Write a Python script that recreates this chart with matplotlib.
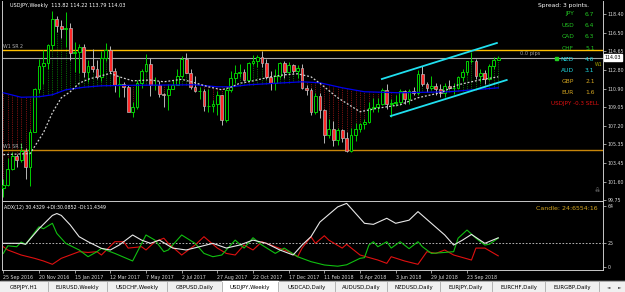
import numpy as np
import matplotlib
matplotlib.use("Agg")
import matplotlib.pyplot as plt
from matplotlib.patches import Rectangle
import matplotlib.transforms as mtrans

W, H = 625, 292

# ---------------- data ----------------
# weekly USDJPY candles, first bar = week of 25 Sep 2016
opens = [101.0, 101.3, 102.9, 104.2, 103.8, 104.7, 103.1, 106.6, 110.9, 113.2, 113.5, 115.3, 117.9, 117.2,
         116.9, 117.0, 114.5, 114.6, 115.1, 112.6, 113.2, 112.9, 112.1, 114.0, 114.8, 112.7, 111.3, 111.4,
         111.1, 108.6, 109.1, 111.5, 112.7, 113.4, 111.3, 111.3, 110.4, 110.3, 110.9, 111.3, 112.2, 113.9,
         112.5, 111.1, 110.7, 110.7, 109.2, 109.2, 109.4, 110.3, 107.8, 110.8, 112.0, 112.5, 112.6, 111.8,
         113.5, 113.7, 114.1, 113.5, 112.1, 111.5, 112.2, 113.5, 112.6, 113.3, 112.7, 113.0, 111.0, 110.8,
         108.6, 110.2, 108.8, 106.3, 106.9, 105.8, 106.8, 106.0, 104.7, 106.3, 106.9, 107.4, 107.6, 109.0,
         109.1, 109.4, 110.8, 109.4, 109.5, 109.6, 110.7, 109.9, 110.7, 110.5, 112.4, 111.4, 111.0, 111.2,
         110.9, 110.5, 111.2, 111.0, 111.0, 112.1, 112.6, 113.7, 113.7, 112.2, 112.5, 111.9, 113.2, 113.82]
highs = [101.9, 104.0, 104.6, 104.4, 105.5, 105.0, 106.9, 111.0, 113.9, 114.8, 115.4, 118.7, 118.2, 117.8,
         118.6, 117.5, 115.6, 115.4, 115.4, 113.8, 114.9, 113.8, 114.7, 115.5, 115.2, 113.0, 112.2, 111.6,
         111.3, 109.6, 111.8, 112.9, 114.4, 114.0, 112.1, 111.7, 110.5, 111.4, 111.8, 112.9, 114.2, 114.5,
         112.9, 112.2, 111.1, 110.9, 110.9, 109.8, 110.7, 110.3, 111.0, 112.7, 113.3, 113.4, 112.9, 113.6,
         114.3, 114.3, 114.7, 113.9, 112.7, 112.9, 113.6, 113.7, 113.6, 113.4, 113.3, 113.4, 111.3, 111.0,
         110.5, 110.5, 108.9, 107.9, 107.7, 107.0, 106.9, 106.6, 107.0, 107.5, 107.5, 107.9, 109.6, 110.0,
         110.0, 111.0, 111.4, 109.9, 110.3, 110.9, 110.8, 110.9, 111.1, 112.8, 113.2, 111.6, 112.2, 111.5,
         111.4, 111.5, 111.8, 111.5, 112.2, 112.9, 113.7, 114.6, 113.9, 112.9, 112.8, 113.4, 114.1, 114.22]
lows = [100.1, 101.2, 102.8, 103.1, 103.6, 101.9, 101.2, 106.6, 110.5, 111.4, 112.9, 114.8, 116.6, 116.0,
        115.1, 113.8, 112.6, 112.5, 112.1, 111.6, 112.6, 111.9, 111.7, 113.7, 112.5, 110.6, 110.1, 110.1,
        108.7, 108.1, 108.9, 111.0, 112.6, 110.2, 110.8, 110.1, 109.1, 108.8, 110.9, 111.3, 112.0, 112.5,
        110.9, 110.6, 109.9, 108.7, 108.6, 108.6, 108.3, 107.3, 107.6, 110.6, 111.5, 112.1, 111.7, 111.7,
        113.3, 113.1, 113.1, 111.9, 110.8, 110.8, 112.0, 112.0, 112.5, 112.5, 112.0, 110.9, 110.3, 108.3,
        108.4, 108.0, 105.5, 106.0, 105.2, 105.3, 105.6, 104.6, 104.6, 105.7, 106.6, 106.9, 107.5, 108.6,
        108.6, 109.3, 108.9, 108.1, 109.2, 109.3, 109.4, 109.4, 110.3, 110.3, 111.2, 110.6, 110.8, 110.3,
        110.1, 110.1, 110.9, 110.4, 111.0, 111.7, 112.3, 113.5, 111.9, 111.6, 111.4, 111.8, 112.9, 113.79]
closes = [101.3, 102.9, 104.2, 103.8, 104.7, 103.1, 106.6, 110.9, 113.2, 113.5, 115.3, 117.9, 117.2, 116.9,
          117.0, 114.5, 114.6, 115.1, 112.6, 113.2, 112.9, 112.1, 114.0, 114.8, 112.7, 111.3, 111.4, 111.1,
          108.6, 109.1, 111.5, 112.7, 113.4, 111.3, 111.3, 110.4, 110.3, 110.9, 111.3, 112.2, 113.9, 112.5,
          111.1, 110.7, 110.7, 109.2, 109.2, 109.4, 110.3, 107.8, 110.8, 112.0, 112.5, 112.6, 111.8, 113.5,
          113.7, 114.1, 113.5, 112.1, 111.5, 112.2, 113.5, 112.6, 113.3, 112.7, 113.0, 111.0, 110.8, 108.6,
          110.2, 108.8, 106.3, 106.9, 105.8, 106.8, 106.0, 104.7, 106.3, 106.9, 107.4, 107.6, 109.0, 109.1,
          109.4, 110.8, 109.4, 109.5, 109.6, 110.7, 109.9, 110.7, 110.5, 112.4, 111.4, 111.0, 111.2, 110.9,
          110.5, 111.2, 111.0, 111.0, 112.1, 112.6, 113.7, 113.7, 112.2, 112.5, 111.9, 113.2, 113.8, 114.03]

# slow moving average (blue), read at bars
ma_slow_bars = [0, 4, 8, 11, 14, 18, 22, 29, 43, 48, 51, 55, 63, 67, 71, 76, 81, 89, 100, 111]
ma_slow_vals = [110.5, 110.05, 110.1, 110.3, 110.8, 111.05, 111.2, 111.25, 111.3, 111.1, 111.1, 111.3,
                111.5, 111.6, 111.5, 111.0, 110.6, 110.5, 110.6, 111.0]
# faster average (white dotted), read at bars
ma_fast_bars = [0, 6, 9, 11, 13, 15, 17, 19, 24, 26, 29, 33, 36, 40, 43, 46, 49, 51, 53, 55, 60, 63, 66,
                69, 71, 75, 80, 84, 89, 93, 98, 102, 107, 111]
ma_fast_vals = [104.3, 104.4, 106.5, 108.5, 110.0, 110.6, 111.45, 111.85, 112.45, 112.1, 111.7, 111.78,
                111.6, 111.85, 111.5, 111.1, 110.8, 111.05, 111.45, 111.6, 112.1, 112.3, 112.4, 112.1,
                111.45, 110.0, 108.6, 108.95, 109.3, 110.0, 110.5, 111.3, 111.8, 112.1]

# levels
sr2_level = 114.79
sr1_level = 104.80
last_price = 114.03
channel_upper = ([84.9, 110.7], [111.88, 115.49])
channel_lower = ([86.9, 112.9], [108.17, 111.78])

price_ticks = [118.40, 116.50, 114.65, 112.80, 110.90, 109.05, 107.20, 105.35, 103.45, 101.60, 99.75]

date_tick_bars = [0, 8, 16, 24, 32, 40, 48, 56, 64, 72, 80, 88, 96, 104]
date_labels = ["25 Sep 2016", "20 Nov 2016", "15 Jan 2017", "12 Mar 2017", "7 May 2017", "2 Jul 2017",
               "27 Aug 2017", "22 Oct 2017", "17 Dec 2017", "11 Feb 2018", "8 Apr 2018", "3 Jun 2018",
               "29 Jul 2018", "23 Sep 2018"]

# ADX(12) readings
adx_bars = [0, 4, 5, 8, 11, 12, 13, 15, 17, 19, 22, 24, 26, 29, 31, 33, 35, 38, 41, 44, 47, 50, 53, 56,
            59, 62, 65, 67, 69, 71, 75, 77, 78, 81, 83, 86, 88, 91, 93, 96, 99, 101, 103, 105, 108, 111]
adx_vals = [24.6, 24.6, 23.6, 40, 54, 56, 54, 44, 31.6, 26.3, 19.3, 17.6, 22.8, 33.4, 28, 24.6, 28, 19.6,
            17.6, 21, 24.6, 19.6, 22.8, 28, 24.6, 17.6, 12.3, 22.8, 31.6, 47, 63, 66.7, 61.5, 45.7, 44.6,
            51, 45.7, 49, 58, 45.7, 33.4, 22.8, 28, 34, 24.6, 30.4]
pdi_bars = [0, 1, 3, 4, 5, 8, 9, 11, 12, 14, 17, 19, 21, 22, 25, 29, 32, 34, 36, 37, 40, 43, 45, 47, 49,
            52, 54, 56, 58, 61, 63, 66, 69, 72, 75, 77, 80, 81, 82, 83, 84, 86, 87, 89, 91, 93, 94, 96,
            99, 101, 102, 104, 106, 108, 109, 111]
pdi_vals = [14, 22, 21, 26, 23.6, 42, 40, 45.7, 35, 24.6, 17.6, 10.5, 15.8, 19.3, 14, 6, 33.4, 28, 15.8,
            17.6, 33.4, 24.6, 14, 10.5, 12.3, 28, 19.6, 30.5, 22.8, 14, 19.6, 10.5, 5.3, 1.8, 0.5, 2, 8.8,
            9.5, 22.8, 26.3, 21, 26.3, 19.6, 26.3, 19, 26.3, 21, 14, 15, 15.8, 30, 38.6, 30, 22.8, 23.6, 30.1]
mdi_bars = [0, 1, 4, 7, 9, 11, 13, 17, 19, 21, 22, 25, 27, 28, 31, 32, 34, 36, 37, 40, 43, 45, 48, 50, 52,
            54, 56, 58, 61, 64, 66, 67, 69, 70, 72, 73, 76, 77, 80, 84, 86, 87, 90, 93, 95, 97, 99, 101,
            105, 106, 108, 111]
mdi_vals = [21, 17.6, 12.3, 8.8, 6, 2.5, 8.8, 15.8, 15, 15.8, 12.3, 26.3, 26.3, 19.6, 21, 17.6, 26.3, 30,
            24.6, 12.3, 22.8, 31.6, 19.6, 14, 12.3, 22.8, 17.6, 26.3, 21, 15.8, 10.5, 19.6, 31.6, 24.6,
            32.6, 28, 19.6, 23.6, 12.3, 7, 3.5, 10.5, 6, 2.5, 15.8, 14, 17.6, 12.3, 7, 19.6, 19.6, 11.4]

strength_names = ["JPY", "USD", "CAD", "CHF", "NZD", "AUD", "GBP", "EUR"]
strength_vals = ["6.7", "6.4", "6.3", "5.1", "4.6", "3.1", "2.1", "1.6"]
strength_cols = ["#22C422", "#22C422", "#22C422", "#22C422", "#20D8E0", "#20D8E0", "#D4A520", "#D4A520"]

tabs = ["GBPJPY,H1", "EURUSD,Weekly", "USDCHF,Weekly", "GBPUSD,Daily", "USDJPY,Weekly", "USDCAD,Daily",
        "AUDUSD,Daily", "NZDUSD,Daily", "EURJPY,Daily", "EURCHF,Daily", "EURGBP,Daily"]
tab_edges = [0, 48, 107, 167, 222, 278, 335, 387, 440, 492, 545, 599]
active_tab = 4

# ---------------- figure ----------------
plt.rcParams['font.family'] = ['DejaVu Sans']
fig = plt.figure(figsize=(W / 100, H / 100), dpi=100, facecolor='black')


def axrect(x0, y0, x1, y1):
    return [x0 / W, 1 - y1 / H, (x1 - x0) / W, (y1 - y0) / H]


FG = '#D8D8D8'
ax = fig.add_axes(axrect(2, 1, 603, 200))
ax.set_facecolor('black')
XL = (-0.3, 134.5)
ax.set_xlim(*XL)
ax.set_ylim(99.75, 119.70)

bars = np.arange(len(opens))
o = np.array(opens); h = np.array(highs); l = np.array(lows); c = np.array(closes)

# histogram between slow MA and price
ma_at = np.interp(bars, ma_slow_bars, ma_slow_vals)
up = l > ma_at
dn = h < ma_at
ax.vlines(bars[up], ma_at[up], l[up], colors='#0A8A0A', linestyles=(0, (1, 1.2)), lw=0.6, zorder=1)
ax.vlines(bars[dn], h[dn], ma_at[dn], colors='#A01818', linestyles=(0, (1, 1.2)), lw=0.6, zorder=1)

# horizontal levels
ax.axhline(sr2_level, color='#FFC000', lw=1.0, zorder=2)
ax.axhline(sr1_level, color='#C8860A', lw=1.0, zorder=2)
ax.axhline(last_price, color='#A8A8A8', lw=0.8, zorder=2)

# candles
bull = c >= o
bw = 0.62
ax.vlines(bars[bull], l[bull], h[bull], colors='#00D000', lw=0.7, zorder=3)
ax.vlines(bars[~bull], l[~bull], h[~bull], colors='#B8B8B8', lw=0.7, zorder=3)
ax.bar(bars[bull], (c - o)[bull], bottom=o[bull], width=bw, color='black', edgecolor='#00D000',
       linewidth=0.7, zorder=4)
ax.bar(bars[~bull], (c - o)[~bull], bottom=o[~bull], width=bw, color='#FF2A2A', edgecolor='#B8B8B8',
       linewidth=0.5, zorder=4)

# moving averages
ax.plot(ma_slow_bars, ma_slow_vals, color='#0000F0', lw=0.9, zorder=5)
ax.plot(ma_fast_bars, ma_fast_vals, color='#D0D0D0', lw=0.9, ls=(0, (1.5, 1.5)), zorder=5)

# channel
ax.plot(*channel_upper, color='#20E0F0', lw=1.3, zorder=6)
ax.plot(*channel_lower, color='#20E0F0', lw=1.3, zorder=6)

ax.yaxis.tick_right()
ax.set_yticks(price_ticks)
ax.set_yticklabels(["%.2f" % v for v in price_ticks])
ax.tick_params(axis='y', colors=FG, labelsize=3.4, length=2, width=0.5, pad=1.5)
ax.set_xticks([])
for s in ['top', 'bottom']:
    ax.spines[s].set_visible(False)
for s in ['left', 'right']:
    ax.spines[s].set_color('#C8C8C8')
    ax.spines[s].set_linewidth(0.7)
tr = mtrans.blended_transform_factory(ax.transAxes, ax.transData)
ax.text(1.003, last_price, "%.2f" % last_price, transform=tr, fontsize=3.4, color='black', va='center',
        ha='left', bbox=dict(boxstyle='square,pad=0.15', fc='white', ec='white'), zorder=10)

# ---------------- ADX panel ----------------
ax2 = fig.add_axes(axrect(2, 201, 603, 270))
ax2.set_facecolor('black')
ax2.set_xlim(*XL)
ax2.set_ylim(-3.5, 69.2)
ax2.axhline(25, color='#D0D0D0', lw=0.6, ls=(0, (2, 2)))
ax2.plot(mdi_bars, mdi_vals, color='#E01010', lw=0.8)
ax2.plot(pdi_bars, pdi_vals, color='#10C010', lw=0.8)
ax2.plot(adx_bars, adx_vals, color='#E8E8E8', lw=0.8)
ax2.yaxis.tick_right()
ax2.set_yticks([64, 25, 0])
ax2.tick_params(axis='y', colors=FG, labelsize=3.4, length=2, width=0.5, pad=1.5)
ax2.set_xticks(date_tick_bars)
ax2.set_xticklabels(date_labels)
ax2.tick_params(axis='x', colors=FG, labelsize=3.4, length=2, width=0.5, pad=1.5)
for lab in ax2.get_xticklabels():
    lab.set_ha('left')
for s in ax2.spines.values():
    s.set_color('#C8C8C8')
    s.set_linewidth(0.7)

# ---------------- overlay texts (pixel coords) ----------------
px = fig.add_axes([0, 0, 1, 1])
px.set_xlim(0, W)
px.set_ylim(H, 0)
px.axis('off')
px.patch.set_alpha(0)

px.text(10, 6, "USDJPY,Weekly  113.82 114.22 113.79 114.03", color='white', fontsize=3.6, va='center')
px.text(3, 46, "W1 SR 2", color='#B0B0B0', fontsize=3.4, va='center')
px.text(3, 147, "W1 SR 1", color='#B0B0B0', fontsize=3.4, va='center')
px.text(538, 6, "Spread: 3 points.", color='white', fontsize=4.3, va='center')
ys = [14, 25.5, 37, 48.5, 59.5, 70.5, 81.5, 92.5]
for name, val, col, y in zip(strength_names, strength_vals, strength_cols, ys):
    px.text(574, y, name, color=col, fontsize=4.3, va='center', ha='right')
    px.text(585, y, val, color=col, fontsize=4.3, va='center', ha='left')
px.text(599, 104, "USDJPY -0.3 SELL", color='#E01010', fontsize=4.1, va='center', ha='right')
px.text(520, 53, "0.0 pips", color='#A0A0A0', fontsize=3.6, va='center')
px.text(595, 64.5, "W1", color='#A8A800', fontsize=3.3, va='center')
px.add_patch(Rectangle((554.5, 56.5), 3, 3, color='#20D020'))
px.text(597, 191, "\u2620", color='#909090', fontsize=4, va='center', ha='center')

px.text(4, 207, "ADX(12) 30.4329 +DI:30.0852 -DI:11.4349", color='white', fontsize=3.4, va='center')
px.text(536, 208, "Candle: 24:6554:16", color='#D4A520', fontsize=4.5, va='center')

# tab bar
px.add_patch(Rectangle((0, 280.5), W, 12, color='#F0F0F0', zorder=1))
px.plot([0, W], [280.5, 280.5], color='#A0A0A0', lw=0.6, zorder=2)
for i, name in enumerate(tabs):
    x0, x1 = tab_edges[i], tab_edges[i + 1]
    if i == active_tab:
        px.add_patch(Rectangle((x0, 280.5), x1 - x0, 12, color='white', zorder=2))
    px.plot([x1, x1], [282, 291], color='#A8A8A8', lw=0.6, zorder=3)
    px.text((x0 + x1) / 2, 287, name, color='black', fontsize=3.9, ha='center', va='center', zorder=4)
px.text(609, 287, "\u25C4", color='#404040', fontsize=3.2, ha='center', va='center', zorder=4)
px.text(620, 287, "\u25BA", color='#404040', fontsize=3.2, ha='center', va='center', zorder=4)

fig.savefig("out.png", dpi=100, facecolor='black')
